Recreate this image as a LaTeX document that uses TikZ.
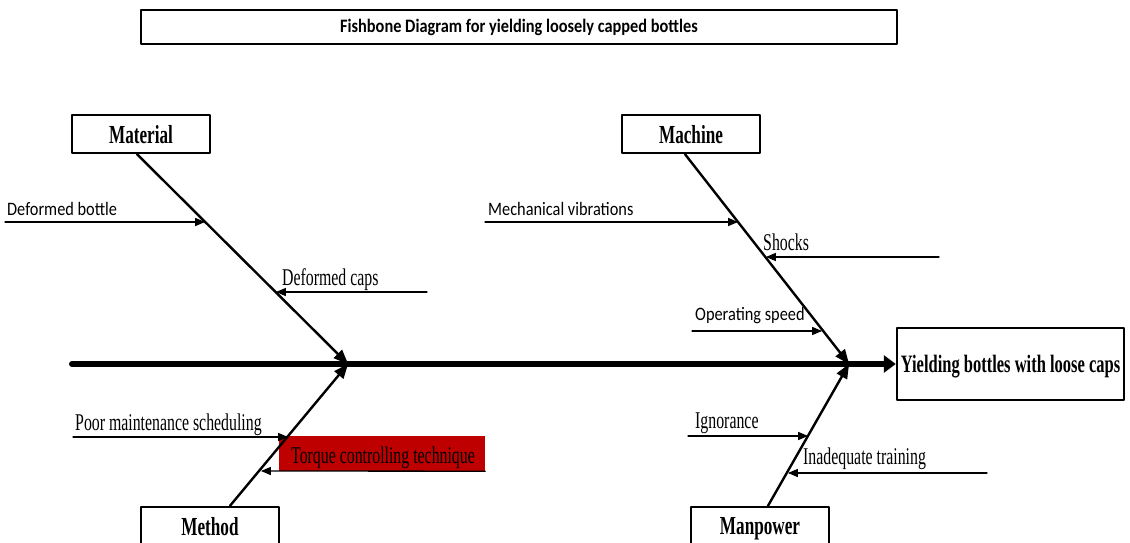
\documentclass[tikz,border=0pt]{standalone}
\usepackage{fontspec}
\usetikzlibrary{arrows,arrows.meta}
\newfontfamily\cbfont[FakeStretch=0.86]{Carlito}
\newfontfamily\tnrfont[FakeStretch=0.66]{Liberation Serif}
\definecolor{rrqqqq}{rgb}{0.75,0,0}
\begin{document}
\begin{tikzpicture}[line cap=round,line join=round,>=triangle 45,x=1pt,y=-1pt,
	catbox/.style={draw,line width=2.4pt,minimum width=138pt,minimum height=38pt,inner sep=0pt,text depth=0pt,font=\tnrfont\bfseries\fontsize{26}{28}\selectfont},
	bone/.style={->,line width=2.4pt},
	twig/.style={->,line width=1.3pt},
	cblabel/.style={anchor=base west,inner sep=0pt,font=\cbfont\fontsize{19}{21}\selectfont},
	tnrlabel/.style={anchor=base west,inner sep=0pt,font=\tnrfont\fontsize{24}{26}\selectfont}]
	\useasboundingbox (0,0) rectangle (1130,543);
	\node[draw,line width=2.2pt,minimum width=756pt,minimum height=34pt,inner sep=0pt,font=\cbfont\bfseries\fontsize{19}{21}\selectfont] (title) at (519,27) {Fishbone Diagram for yielding loosely capped bottles};
	\node[catbox,minimum width=227pt,minimum height=72pt,font=\tnrfont\bfseries\fontsize{25}{27}\selectfont] (effect) at (1010.5,364) {Yielding bottles with loose caps};
	\node[catbox] (mat) at (141,134) {Material};
	\node[catbox] (mach) at (691,134) {Machine};
	\node[catbox] (meth) at (210,526) {Method};
	\node[catbox] (manp) at (760,526) {Manpower};
	\node[fill=rrqqqq,minimum width=206pt,minimum height=35pt,inner sep=0pt] (tq) at (382,453.5) {};
	\coordinate (tail) at (72,364);
	\coordinate (j1) at (348,364);
	\coordinate (j2) at (849,364);
	\draw[-{Triangle[length=12pt,width=17pt]},line width=6pt] (tail) -- (effect.west);
	\draw[bone] ([xshift=-4pt]mat.south) -- (j1);
	\draw[bone] ([xshift=-6pt]mach.south) -- (j2);
	\draw[bone] ([xshift=20pt]meth.north) -- (j1);
	\draw[bone] ([xshift=8pt]manp.north) -- (j2);
	\coordinate (db0) at (5,222);
	\coordinate (db1) at (205,222);
	\coordinate (dc0) at (427,292);
	\coordinate (dc1) at (276,292);
	\coordinate (pm0) at (73,437);
	\coordinate (pm1) at (288,437);
	\coordinate (tq1) at (261,471);
	\coordinate (mv0) at (485,222);
	\coordinate (mv1) at (738,222);
	\coordinate (sh0) at (939,257);
	\coordinate (sh1) at (766,257);
	\coordinate (os0) at (692,331);
	\coordinate (os1) at (822,331);
	\coordinate (ig0) at (688,436);
	\coordinate (ig1) at (808,436);
	\coordinate (it0) at (987,473);
	\coordinate (it1) at (788,473);
	\draw[twig] (db0) -- (db1);
	\draw[twig] (dc0) -- (dc1);
	\draw[twig] (pm0) -- (pm1);
	\draw[twig] (tq.south east) -- (tq1);
	\draw[twig] (mv0) -- (mv1);
	\draw[twig] (sh0) -- (sh1);
	\draw[twig] (os0) -- (os1);
	\draw[twig] (ig0) -- (ig1);
	\draw[twig] (it0) -- (it1);
	\node[cblabel] (dbl) at (7,215) {Deformed bottle};
	\node[tnrlabel] (dcl) at (282,285) {Deformed caps};
	\node[tnrlabel] (pml) at (75,430) {Poor maintenance scheduling};
	\node[tnrlabel] (tql) at (291,463) {Torque controlling technique};
	\node[cblabel] (mvl) at (488,215) {Mechanical vibrations};
	\node[tnrlabel] (shl) at (763,250) {Shocks};
	\node[cblabel] (osl) at (695,320) {Operating speed};
	\node[tnrlabel] (igl) at (695,428) {Ignorance};
	\node[tnrlabel] (itl) at (803,464) {Inadequate training};
\end{tikzpicture}
\end{document}
